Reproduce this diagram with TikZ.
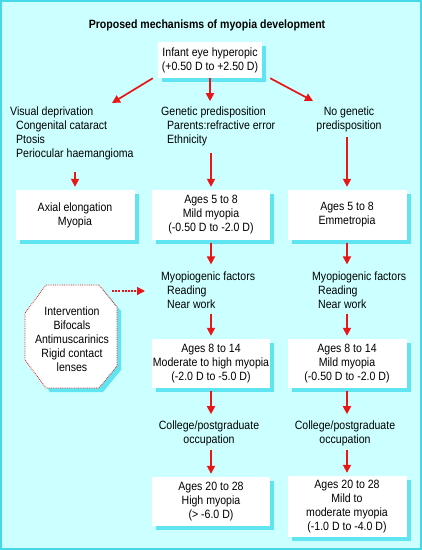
\documentclass[tikz,border=0pt]{standalone}
\usepackage{fontspec}
\setmainfont{Liberation Sans}[FakeStretch=0.88]
\usetikzlibrary{arrows.meta,shadows}
\definecolor{bgc}{RGB}{204,255,255}
\definecolor{shc}{RGB}{95,228,242}
\definecolor{bdc}{RGB}{70,215,232}
\definecolor{arc}{RGB}{232,22,22}
\newcommand{\fs}{\fontsize{12}{14}\selectfont}
\begin{document}
\begin{tikzpicture}[x=1pt,y=-1pt,>={Triangle[length=8pt,width=8pt]},every node/.style={font=\fs,inner sep=0pt},arr/.style={->,line width=1.7pt,arc,shorten >=3pt},wbox/.style={fill=white,align=center,drop shadow={shadow xshift=4pt,shadow yshift=-4pt,fill=shc,opacity=1}},txt/.style={align=left,anchor=west}]
\useasboundingbox (0,0) rectangle (422,550);
\fill[bgc] (0,0) rectangle (422,550);\draw[line width=2pt,bdc] (1,1) rectangle (421,549);
\node[font=\fs\bfseries] (title) at (207,25) {Proposed mechanisms of myopia development};
\node[wbox,minimum width=104pt,minimum height=36pt] (infant) at (210,60) {Infant eye hyperopic\\(+0.50 D to +2.50 D)};
\node[txt] (vis) at (10,133) {Visual deprivation\\\hspace*{6pt}Congenital cataract\\\hspace*{6pt}Ptosis\\\hspace*{6pt}Periocular haemangioma};
\node[txt] (gen) at (161,126) {Genetic predisposition\\\hspace*{6pt}Parents:refractive error\\\hspace*{6pt}Ethnicity};
\node[align=center] (nogen) at (349,119.5) {No genetic\\predisposition};
\coordinate (vistop) at (112,103);\coordinate (nogtop) at (313,101);
\draw[arr,shorten >=0pt] ([xshift=-5pt]infant.south west) -- (vistop);\draw[arr,shorten >=5pt] (infant.south) -- (gen.north -| infant.south);\draw[arr,shorten >=0pt] ([xshift=8pt]infant.south east) -- (nogtop);
\node[wbox,minimum width=119pt,minimum height=50pt] (axial) at (75,215) {Axial elongation\\Myopia};
\node[wbox,minimum width=118pt,minimum height=50pt] (mildm) at (211,215) {Ages 5 to 8\\Mild myopia\\(-0.50 D to -2.0 D)};
\node[wbox,minimum width=119pt,minimum height=50pt] (emm) at (347,215) {Ages 5 to 8\\Emmetropia};
\draw[arr,shorten <=12pt] (vis.south -| axial.north) -- (axial.north);\draw[arr,shorten <=7pt] (gen.south -| mildm.north) -- (mildm.north);\draw[arr,shorten <=5pt] (nogen.south -| emm.north) -- (emm.north);
\node[txt] (myopm) at (161,290) {Myopiogenic factors\\\hspace*{6pt}Reading\\\hspace*{6pt}Near work};
\node[txt] (myopr) at (312,290) {Myopiogenic factors\\\hspace*{6pt}Reading\\\hspace*{6pt}Near work};
\draw[arr,shorten <=3pt,shorten >=7pt] (mildm.south) -- (myopm.north -| mildm.south);\draw[arr,shorten <=3pt,shorten >=7pt] (emm.south) -- (myopr.north -| emm.south);
\path[fill=white,draw=arc,densely dotted,line width=0.8pt,drop shadow={shadow xshift=4pt,shadow yshift=-4pt,fill=shc,opacity=1}] (46,285) -- (99,285) -- (117,307) -- (117,366) -- (99,388) -- (46,388) -- (25,360) -- (25,313) -- cycle;
\node[align=center] (interv) at (72,339) {Intervention\\Bifocals\\Antimuscarinics\\Rigid contact\\lenses};
\coordinate (octarr) at (112,291);
\draw[->,arc,line width=1.2pt,dash pattern=on 2pt off 1.2pt,shorten >=16pt] (octarr) -- (octarr -| myopm.west);
\node[wbox,minimum width=118pt,minimum height=49pt] (modm) at (211,363.5) {Ages 8 to 14\\Moderate to high myopia\\(-2.0 D to -5.0 D)};
\node[wbox,minimum width=119pt,minimum height=49pt] (mildr) at (347,363.5) {Ages 8 to 14\\Mild myopia\\(-0.50 D to -2.0 D)};
\draw[arr,shorten <=5pt] (myopm.south -| modm.north) -- (modm.north);\draw[arr,shorten <=5pt] (myopr.south -| mildr.north) -- (mildr.north);
\node[align=center] (collm) at (209,433) {College/postgraduate\\occupation};
\node[align=center] (collr) at (345,433) {College/postgraduate\\occupation};
\draw[arr,shorten <=3pt,shorten >=6pt] (modm.south) -- (collm.north -| modm.south);\draw[arr,shorten <=3pt,shorten >=6pt] (mildr.south) -- (collr.north -| mildr.south);
\node[wbox,minimum width=118pt,minimum height=49pt] (highm) at (211,501.5) {Ages 20 to 28\\High myopia\\(> -6.0 D)};
\node[wbox,minimum width=119pt,minimum height=61pt] (modr) at (347,506.5) {Ages 20 to 28\\Mild to\\moderate myopia\\(-1.0 D to -4.0 D)};
\draw[arr,shorten <=4pt] (collm.south -| highm.north) -- (highm.north);\draw[arr,shorten <=4pt] (collr.south -| modr.north) -- (modr.north);
\end{tikzpicture}
\end{document}
